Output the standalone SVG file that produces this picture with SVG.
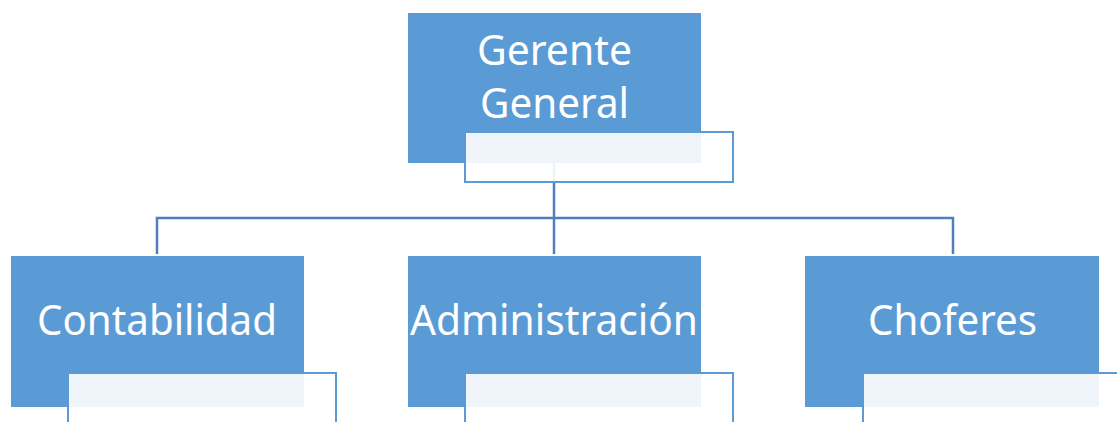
<svg xmlns="http://www.w3.org/2000/svg" width="1117" height="422" viewBox="0 0 1117 422">
<style>
.main{fill:#5B9BD5;}
.sub{fill:#FFFFFF;fill-opacity:0.9;stroke:#5B9BD5;stroke-width:2;}
.lbl{font-family:"Noto Sans","Open Sans","Liberation Sans",sans-serif;font-size:42px;fill:#FFFFFF;text-anchor:middle;}
.conn{fill:none;stroke:#4F80B9;stroke-width:2.5;}
</style>
<rect width="1117" height="422" fill="#FFFFFF"/>
<g id="connectors">
<path class="conn" d="M554,163 V218"/>
<path class="conn" d="M157,254 V218 H953 V254"/>
<path class="conn" d="M554,218 V254"/>
</g>
<g id="gerente">
<rect class="main" x="408" y="13" width="293" height="150"/>
<text class="lbl" x="554.5" y="65" textLength="155" lengthAdjust="spacingAndGlyphs">Gerente</text>
<text class="lbl" x="554.5" y="118" textLength="149" lengthAdjust="spacingAndGlyphs">General</text>
<rect class="sub" x="465" y="132" width="268" height="50"/>
</g>
<g id="contabilidad">
<rect class="main" x="11" y="256" width="293" height="151"/>
<text class="lbl" x="157" y="335" textLength="240" lengthAdjust="spacingAndGlyphs">Contabilidad</text>
<rect class="sub" x="68" y="373" width="268" height="60"/>
</g>
<g id="administracion">
<rect class="main" x="408" y="256" width="293" height="151"/>
<text class="lbl" x="554" y="335" textLength="288" lengthAdjust="spacingAndGlyphs">Administración</text>
<rect class="sub" x="465" y="373" width="268" height="60"/>
</g>
<g id="choferes">
<rect class="main" x="805" y="256" width="294" height="151"/>
<text class="lbl" x="952.5" y="335" textLength="169" lengthAdjust="spacingAndGlyphs">Choferes</text>
<rect class="sub" x="863" y="373" width="268" height="60"/>
</g>
</svg>
